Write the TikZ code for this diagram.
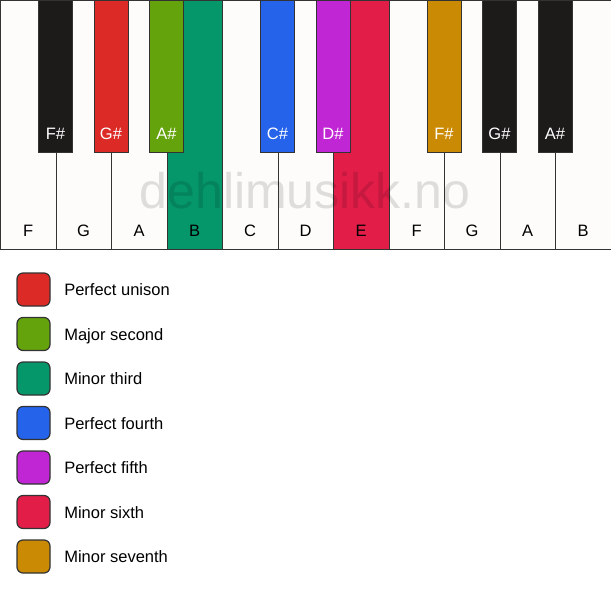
\documentclass[tikz,border=0pt]{standalone}
\usepackage{fontspec}
\setmainfont{Liberation Sans}
\usetikzlibrary{positioning}
\tikzset{>=stealth}

\definecolor{keywhite}{HTML}{FDFCFA}
\definecolor{keyblack}{HTML}{1C1B1A}
\definecolor{keyline}{HTML}{333333}
\definecolor{unison}{HTML}{DC2A27}
\definecolor{second}{HTML}{65A30D}
\definecolor{minthird}{HTML}{059669}
\definecolor{fourth}{HTML}{2563EB}
\definecolor{fifth}{HTML}{C026D3}
\definecolor{minsixth}{HTML}{E11D48}
\definecolor{minseventh}{HTML}{CA8A04}

\tikzset{
  whitekey/.style={draw=keyline, line width=0.8pt, minimum width=55.5pt, minimum height=249pt, inner sep=0pt, anchor=north west},
  blackkey/.style={draw=keyline, line width=0.8pt, minimum width=34pt, minimum height=152pt, inner sep=0pt, anchor=north},
  keyname/.style={inner sep=0pt, text height=12pt, text depth=0pt, font=\fontsize{16.5}{19}\selectfont},
  swatch/.style={draw=keyline, line width=1.2pt, rounded corners=6pt, minimum size=33pt, inner sep=0pt},
  legendtext/.style={inner sep=0pt, text height=12pt, text depth=0pt, font=\fontsize{16.5}{19}\selectfont},
  watermark/.style={inner sep=0pt, text=black, text opacity=0.12, font=\fontsize{50}{60}\selectfont}
}

\begin{document}
\begin{tikzpicture}[x=1pt, y=-1pt]
    \useasboundingbox (0,0) rectangle (611,594);
    % white keys
    \foreach \n/\c [count=\i from 0] in {F/keywhite, G/keywhite, A/keywhite, B/minthird, C/keywhite, D/keywhite, E/minsixth, F/keywhite, G/keywhite, A/keywhite, B/keywhite}
    {
        \node[whitekey, fill=\c] (w\i) at (55.5*\i,0) {};
        \node[keyname] (wn\i) at ([yshift=19pt]w\i.south) {\n};
    }
    % black keys
    \foreach \n/\c/\p in {F\#/keyblack/1, G\#/unison/2, A\#/second/3, C\#/fourth/5, D\#/fifth/6, F\#/minseventh/8, G\#/keyblack/9, A\#/keyblack/10}
    {
        \node[blackkey, fill=\c] (b\p) at (w\p.north west) {};
        \node[keyname, text=white] (bn\p) at ([yshift=19pt]b\p.south) {\n};
    }
    \node[watermark, anchor=base] (mark) at (305,208) {dehlimusikk.no};
    % legend
    \foreach \t/\c [count=\i from 0] in {Perfect unison/unison, Major second/second, Minor third/minthird, Perfect fourth/fourth, Perfect fifth/fifth, Minor sixth/minsixth, Minor seventh/minseventh}
    {
        \node[swatch, fill=\c] (s\i) at (33.5,289.5+44.5*\i) {};
        \node[legendtext, right=13.5pt of s\i] (t\i) {\t};
    }
\end{tikzpicture}
\end{document}
